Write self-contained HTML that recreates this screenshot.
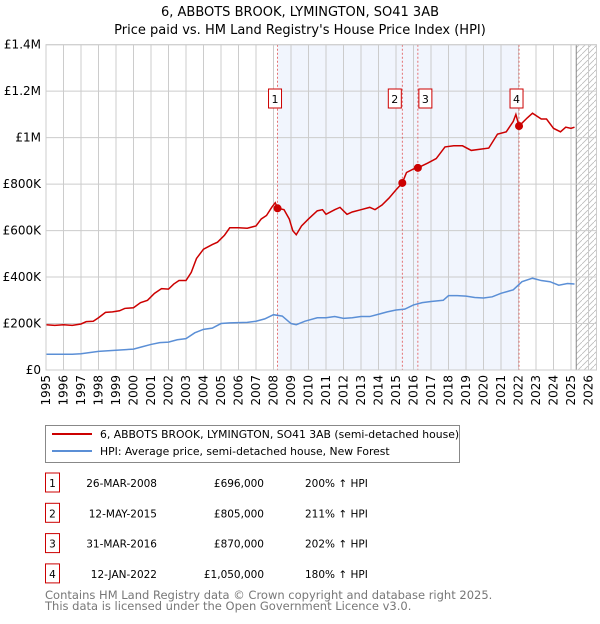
<!DOCTYPE html>
<html><head><meta charset="utf-8"><style>
body{margin:0;background:#fff;font-family:"DejaVu Sans","Liberation Sans",sans-serif;}
svg text{font-family:"DejaVu Sans","Liberation Sans",sans-serif;}
</style></head><body>
<svg id="c" width="600" height="620" xmlns="http://www.w3.org/2000/svg">
<text x="300" y="16" text-anchor="middle" font-size="13">6, ABBOTS BROOK, LYMINGTON, SO41 3AB</text>
<text x="300" y="34" text-anchor="middle" font-size="13">Price paid vs. HM Land Registry's House Price Index (HPI)</text>
<g id="plot"></g>
<g>
<rect x="45.5" y="425.5" width="414" height="37" fill="#fff" stroke="#888"/>
<line x1="52" y1="434" x2="92" y2="434" stroke="#cc0000" stroke-width="2"/>
<text x="100" y="438" font-size="10.8">6, ABBOTS BROOK, LYMINGTON, SO41 3AB (semi-detached house)</text>
<line x1="52" y1="451" x2="92" y2="451" stroke="#5b8fd6" stroke-width="2"/>
<text x="100" y="455" font-size="10.8">HPI: Average price, semi-detached house, New Forest</text>
</g>
<g id="table" font-size="10.5"></g>
<text x="45" y="599" font-size="11.5" fill="#777">Contains HM Land Registry data © Crown copyright and database right 2025.</text>
<text x="45" y="610" font-size="11.5" fill="#777">This data is licensed under the Open Government Licence v3.0.</text>
</svg>
<script>
const redYears=[1995,1995.5,1996,1996.5,1997,1997.3,1997.7,1998,1998.4,1998.8,1999.2,1999.5,2000,2000.4,2000.8,2001.2,2001.6,2002,2002.3,2002.6,2003,2003.3,2003.6,2004,2004.5,2004.8,2005.2,2005.5,2006,2006.5,2007,2007.3,2007.6,2007.9,2008.1,2008.23,2008.6,2008.9,2009.1,2009.3,2009.6,2010,2010.5,2010.8,2011,2011.5,2011.8,2012.2,2012.5,2013,2013.5,2013.8,2014.2,2014.6,2015,2015.36,2015.6,2016,2016.25,2016.8,2017.3,2017.8,2018.3,2018.8,2019.3,2019.8,2020.3,2020.8,2021.3,2021.7,2021.85,2022.03,2022.5,2022.8,2023.3,2023.6,2024,2024.4,2024.7,2025,2025.2];
const redValues=[195,192,195,192,198,208,210,225,248,250,255,265,268,290,300,330,350,348,370,385,385,420,480,520,540,550,580,612,612,610,620,650,665,700,720,696,690,650,600,582,620,650,685,690,670,690,700,670,680,690,700,690,710,740,775,805,850,865,870,890,910,960,965,965,945,950,955,1015,1025,1070,1100,1050,1085,1105,1080,1080,1040,1025,1045,1040,1045];
const hpiYears=[1995,1996.5,1997,1998,1999,2000,2000.5,2001,2001.5,2002,2002.5,2003,2003.5,2004,2004.5,2005,2005.5,2006.5,2007,2007.5,2008,2008.5,2009,2009.3,2009.8,2010.5,2011,2011.5,2012,2012.5,2013,2013.5,2014,2014.5,2015,2015.5,2016,2016.5,2017,2017.7,2018,2018.5,2019,2019.5,2020,2020.5,2021,2021.7,2022.2,2022.8,2023.3,2023.8,2024.3,2024.8,2025.2];
const hpiValues=[68,68,70,80,85,90,100,110,118,120,130,135,160,175,180,200,203,205,210,220,238,232,200,195,210,225,225,230,222,225,230,230,240,250,258,262,280,290,295,300,320,320,318,312,310,315,330,345,380,395,385,380,365,372,370];
const saleLabels=["1","2","3","4"];
const saleYears=[2008.23,2015.36,2016.25,2022.03];
const saleValues=[696,805,870,1050];
const saleDates=["26-MAR-2008","12-MAY-2015","31-MAR-2016","12-JAN-2022"];
const salePrices=["£696,000","£805,000","£870,000","£1,050,000"];
const saleHpi=["200% ↑ HPI","211% ↑ HPI","202% ↑ HPI","180% ↑ HPI"];
const yTicks=[0,200,400,600,800,1000,1200,1400];
const yTickLabels=["£0","£200K","£400K","£600K","£800K","£1M","£1.2M","£1.4M"];
const xTicks=[1995,1996,1997,1998,1999,2000,2001,2002,2003,2004,2005,2006,2007,2008,2009,2010,2011,2012,2013,2014,2015,2016,2017,2018,2019,2020,2021,2022,2023,2024,2025,2026];

const X0=46,X1=588.5,Y0=370,Y1=44.7;
const xs=y=>X0+(y-1995)/(31)*(X1-X0);
const ys=v=>Y0-v/1400*(Y0-Y1);
const NS="http://www.w3.org/2000/svg";
const plot=document.getElementById('plot');
function mk(tag,attrs,parent){const e=document.createElementNS(NS,tag);for(const k in attrs)e.setAttribute(k,attrs[k]);(parent||plot).appendChild(e);return e;}
let sh=mk('rect',{x:xs(saleYears[0]),y:Y1,width:xs(saleYears[3])-xs(saleYears[0]),height:Y0-Y1,fill:'#eef3fc',opacity:0.8});


const defs=mk('defs',{});
const pat=mk('pattern',{id:'h',width:6,height:6,patternUnits:'userSpaceOnUse'},defs);
mk('path',{d:'M0,6 L6,0',stroke:'#bbb','stroke-width':0.8},pat);
let ht=mk('rect',{x:xs(2025.3),y:Y1,width:X1+8-xs(2025.3),height:Y0-Y1,fill:'url(#h)'});


mk('line',{x1:xs(2025.3),x2:xs(2025.3),y1:Y1,y2:Y0,stroke:'#888','stroke-width':1});
xTicks.forEach(t=>{
 mk('line',{x1:xs(t),x2:xs(t),y1:Y1,y2:Y0,stroke:'#ccc','stroke-width':1});
 const tx=mk('text',{x:0,y:0,'font-size':12,'text-anchor':'end',transform:`translate(${xs(t)+4},${Y0+5}) rotate(-90)`});
 tx.textContent=t;
 
 
});
yTicks.forEach((t,i)=>{
 mk('line',{x1:X0,x2:X1+8,y1:ys(t),y2:ys(t),stroke:'#ccc','stroke-width':1});
 const tx=mk('text',{x:X0-5,y:ys(t)+4,'font-size':12,'text-anchor':'end'});
 tx.textContent=yTickLabels[i];
 
 
});
saleYears.forEach(y=>mk('line',{x1:xs(y),x2:xs(y),y1:Y1,y2:Y0,stroke:'#e05050','stroke-width':0.8,'stroke-dasharray':'2,2'}));
let hp=mk('polyline',{points:hpiYears.map((y,i)=>xs(y)+','+ys(hpiValues[i])).join(' '),fill:'none',stroke:'#5b8fd6','stroke-width':1.5});


let rl=mk('polyline',{points:redYears.map((y,i)=>xs(y)+','+ys(redValues[i])).join(' '),fill:'none',stroke:'#cc0000','stroke-width':1.5});


const boxOff=[-9,-14,1,-9];
saleYears.forEach((y,i)=>{
 const c=mk('circle',{cx:xs(y),cy:ys(saleValues[i]),r:4,fill:'#cc0000'});
 
 
 const bx=xs(y)+boxOff[i];
 const r=mk('rect',{x:bx,y:89,width:13,height:19,fill:'#fff',stroke:'#cc0000','stroke-width':1});
 
 
 const t=mk('text',{x:bx+6.5,y:103,'font-size':11,'text-anchor':'middle'});
 t.textContent=saleLabels[i];
});
mk('rect',{x:X0,y:Y1,width:X1+8-X0,height:Y0-Y1,fill:'none',stroke:'#ccc'});
const tb=document.getElementById('table');
saleLabels.forEach((l,i)=>{
 const yy=483+i*30.3;
 const r=mk('rect',{x:45.5,y:yy-10,width:14,height:19,fill:'#fff',stroke:'#cc0000'},tb);
 
 
 const t0=mk('text',{x:52.5,y:yy+4,'text-anchor':'middle'},tb);t0.textContent=l;
 const t1=mk('text',{x:157,y:yy+4,'text-anchor':'end'},tb);t1.textContent=saleDates[i];
 
 
 const t2=mk('text',{x:264,y:yy+4,'text-anchor':'end'},tb);t2.textContent=salePrices[i];
 
 
 const t3=mk('text',{x:305,y:yy+4},tb);t3.textContent=saleHpi[i];
 
 
});
</script>
</body></html>
